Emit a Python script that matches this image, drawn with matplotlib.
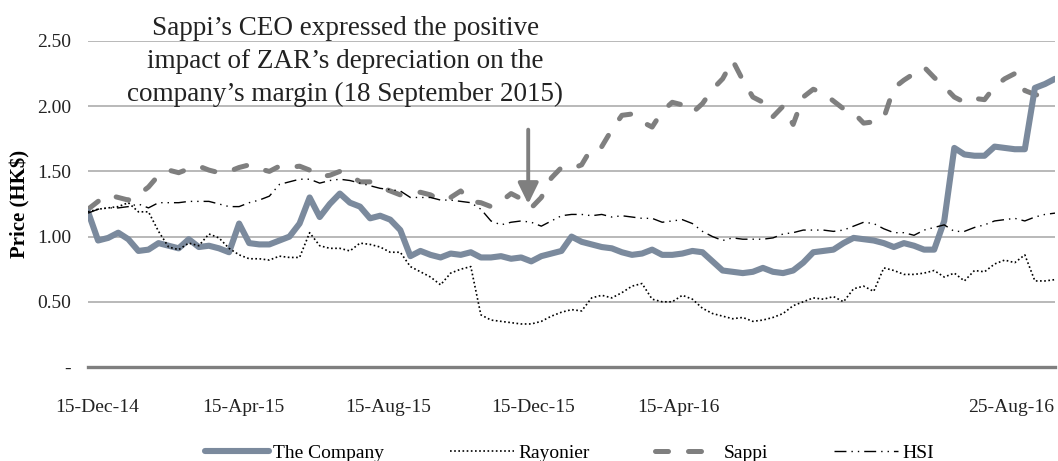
import matplotlib
matplotlib.use("Agg")
import matplotlib.pyplot as plt
import numpy as np

plt.rcParams['font.family'] = ['Liberation Serif', 'DejaVu Serif']

# weekly-ish samples across the period (index positions on the x axis)
company = [1.19, 0.97, 0.99, 1.03, 0.98, 0.89, 0.90, 0.95, 0.93, 0.91,
           0.98, 0.92, 0.93, 0.91, 0.88, 1.10, 0.95, 0.94, 0.94, 0.97,
           1.00, 1.10, 1.30, 1.15, 1.25, 1.33, 1.26, 1.23, 1.14, 1.16,
           1.13, 1.05, 0.85, 0.89, 0.86, 0.84, 0.87, 0.86, 0.88, 0.84,
           0.84, 0.85, 0.83, 0.84, 0.81, 0.85, 0.87, 0.89, 1.00, 0.96,
           0.94, 0.92, 0.91, 0.88, 0.86, 0.87, 0.90, 0.86, 0.86, 0.87,
           0.89, 0.88, 0.81, 0.74, 0.73, 0.72, 0.73, 0.76, 0.73, 0.72,
           0.74, 0.80, 0.88, 0.89, 0.90, 0.95, 0.99, 0.98, 0.97, 0.95,
           0.92, 0.95, 0.93, 0.90, 0.90, 1.12, 1.68, 1.63, 1.62, 1.62,
           1.69, 1.68, 1.67, 1.67, 2.14, 2.17, 2.21]

rayonier = [1.19, 1.21, 1.22, 1.23, 1.26, 1.19, 1.19, 1.04, 0.92, 0.90,
            0.95, 0.93, 1.02, 0.99, 0.91, 0.86, 0.83, 0.83, 0.82, 0.85,
            0.84, 0.84, 1.03, 0.93, 0.91, 0.91, 0.89, 0.95, 0.94, 0.92,
            0.88, 0.88, 0.77, 0.73, 0.69, 0.63, 0.72, 0.75, 0.77, 0.40,
            0.36, 0.35, 0.34, 0.33, 0.33, 0.35, 0.39, 0.42, 0.44, 0.43,
            0.53, 0.55, 0.53, 0.57, 0.62, 0.64, 0.52, 0.50, 0.50, 0.55,
            0.52, 0.45, 0.41, 0.39, 0.37, 0.38, 0.35, 0.36, 0.38, 0.41,
            0.47, 0.50, 0.53, 0.52, 0.54, 0.50, 0.60, 0.62, 0.58, 0.76,
            0.74, 0.71, 0.71, 0.72, 0.74, 0.69, 0.72, 0.66, 0.74, 0.73,
            0.79, 0.82, 0.80, 0.86, 0.66, 0.66, 0.67]

sappi = [1.21, 1.27, 1.32, 1.30, 1.28, 1.32, 1.38, 1.47, 1.51, 1.49,
         1.52, 1.54, 1.51, 1.49, 1.50, 1.53, 1.55, 1.52, 1.50, 1.54,
         1.53, 1.54, 1.51, 1.46, 1.47, 1.50, 1.47, 1.42, 1.42, 1.38,
         1.35, 1.32, 1.33, 1.34, 1.32, 1.28, 1.30, 1.35, 1.27, 1.26,
         1.23, 1.27, 1.33, 1.29, 1.22, 1.30, 1.45, 1.53, 1.52, 1.55,
         1.68, 1.69, 1.82, 1.93, 1.94, 1.88, 1.84, 1.96, 2.03, 2.01,
         1.95, 2.02, 2.13, 2.21, 2.35, 2.20, 2.07, 2.03, 1.92, 2.00,
         1.86, 2.07, 2.13, 2.10, 2.04, 1.98, 1.95, 1.87, 1.88, 1.91,
         2.14, 2.20, 2.25, 2.30, 2.22, 2.15, 2.07, 2.03, 2.06, 2.05,
         2.15, 2.21, 2.25, 2.12, 2.09, 2.07, 2.10]

hsi = [1.18, 1.21, 1.22, 1.22, 1.23, 1.25, 1.22, 1.26, 1.26, 1.26,
       1.27, 1.27, 1.27, 1.25, 1.23, 1.23, 1.26, 1.28, 1.31, 1.40,
       1.42, 1.44, 1.44, 1.41, 1.43, 1.44, 1.43, 1.41, 1.39, 1.37,
       1.36, 1.35, 1.30, 1.30, 1.30, 1.28, 1.28, 1.27, 1.26, 1.21,
       1.12, 1.09, 1.11, 1.12, 1.11, 1.08, 1.12, 1.16, 1.17, 1.17,
       1.16, 1.17, 1.15, 1.16, 1.15, 1.14, 1.14, 1.11, 1.12, 1.13,
       1.10, 1.04, 1.00, 0.97, 0.99, 0.98, 0.98, 0.98, 0.99, 1.02,
       1.03, 1.05, 1.05, 1.05, 1.04, 1.05, 1.08, 1.11, 1.10, 1.06,
       1.03, 1.03, 1.01, 1.05, 1.07, 1.09, 1.04, 1.04, 1.07, 1.09,
       1.12, 1.13, 1.14, 1.12, 1.15, 1.17, 1.18]

tick_labels = ["15-Dec-14", "15-Apr-15", "15-Aug-15", "15-Dec-15", "15-Apr-16", "25-Aug-16"]
tick_pos = [0.9, 15.4, 29.8, 44.2, 58.6, 91.6]

event_idx = 43.7   # 18 September 2015
event_note = "Sappi\u2019s CEO expressed the positive\nimpact of ZAR\u2019s depreciation on the\ncompany\u2019s margin (18 September 2015)"

x = np.arange(len(company))

fig = plt.figure(figsize=(10.58, 4.61), dpi=100)
ax = fig.add_axes([0.0832, 0.2039, 0.914, 0.7072])

ax.plot(x, company, color='#7b8a9d', lw=4.4, solid_joinstyle='round',
        solid_capstyle='round', label='The Company', zorder=3)
ax.plot(x, rayonier, color='black', lw=1.2, linestyle=(0, (1, 1.5)),
        label='Rayonier', zorder=4)
ax.plot(x, sappi, color='#7f7f7f', lw=3.6, linestyle=(0, (2.6, 4.0)),
        dash_capstyle='round', label='Sappi', zorder=2)
ax.plot(x, hsi, color='black', lw=1.0, linestyle=(0, (8.6, 3.6, 1, 3.6, 1, 3.6)),
        label='HSI', zorder=4)

ax.annotate('', xy=(event_idx, 1.25), xytext=(event_idx, 1.82),
            arrowprops=dict(arrowstyle='-|>,head_length=0.45,head_width=0.22',
                            color='#7f7f7f', lw=2.8, mutation_scale=28,
                            shrinkA=0, shrinkB=0), zorder=5)
ax.text(0.266, 0.937, event_note, transform=ax.transAxes, ha='center',
        va='center', fontsize=19.5, color='#222222', linespacing=1.4)

ax.set_xlim(0, 96)
ax.set_ylim(0, 2.5)
ax.set_yticks([0, 0.5, 1.0, 1.5, 2.0, 2.5])
ax.set_yticklabels(['-', '0.50', '1.00', '1.50', '2.00', '2.50'])
ax.set_xticks(tick_pos)
ax.set_xticklabels(tick_labels)
ax.tick_params(axis='both', length=0, labelsize=14, colors='#222222')
ax.tick_params(axis='y', pad=12)
ax.tick_params(axis='x', pad=23)

ax.grid(axis='y', color='#a6a6a6', lw=1.1)
ax.set_axisbelow(True)
for s in ['top', 'right', 'left']:
    ax.spines[s].set_visible(False)
ax.spines['bottom'].set_color('#7f7f7f')
ax.spines['bottom'].set_linewidth(2.4)

ax.set_ylabel('Price (HK$)', fontsize=15, fontweight='bold')
ax.yaxis.set_label_coords(-0.060, 0.5)

fig.legend(loc='center', bbox_to_anchor=(0.538, 0.018), ncol=4, frameon=False,
           fontsize=14, handlelength=3.3, handletextpad=0.2, columnspacing=3.4)

fig.savefig('out.png', dpi=100)
